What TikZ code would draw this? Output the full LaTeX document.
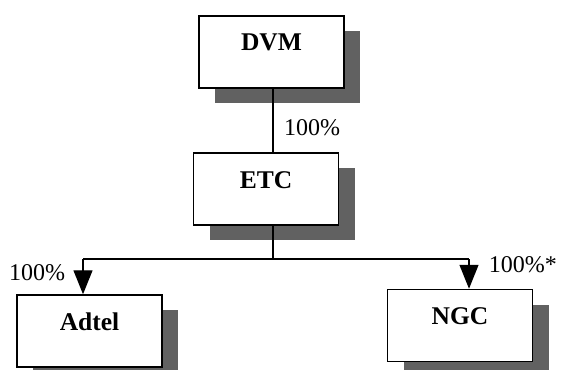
\documentclass[tikz,border=0pt]{standalone}
\usepackage{fontspec}
\setmainfont{Liberation Serif}
\usetikzlibrary{arrows.meta,shadows}

\begin{document}
\begin{tikzpicture}[x=1pt, y=-1pt, >={Triangle[length=24pt,width=19pt]},
	company/.style={draw, line width=1.5pt, fill=white, minimum width=145pt, minimum height=72pt,
		text height=17pt, text depth=19pt, font=\fontsize{25.5}{30}\selectfont\bfseries,
		drop shadow={shadow xshift=16pt, shadow yshift=-15pt, fill=black!62, opacity=1}},
	share/.style={inner sep=0pt, font=\fontsize{24}{28}\selectfont},
	link/.style={line width=1.3pt}]
	\useasboundingbox (0,0) rectangle (561,369);
	\node[company] (dvm) at (271.5,52) {DVM};
	\node[company] (etc) at (266,189) {ETC};
	\node[company] (adtel) at (89.5,331) {Adtel};
	\node[company] (ngc) at (460,325.5) {NGC};
	\coordinate (split) at (273,259);
	\coordinate (toadtel) at (83,259);
	\coordinate (tongc) at (469,259);
	\draw[link] (dvm.south -| split) -- (etc.north -| split);
	\draw[link] (etc.south -| split) -- (split);
	\draw[link] (toadtel) -- (tongc);
	\draw[link,->] (toadtel) -- (toadtel |- adtel.north);
	\draw[link,->] (tongc) -- (tongc |- ngc.north);
	\node[share] (topshare) at (312,128) {100\%};
	\node[share] (adtelshare) at (37,273) {100\%};
	\node[share, anchor=east] (ngcshare) at (557,265) {100\%*};
\end{tikzpicture}
\end{document}
